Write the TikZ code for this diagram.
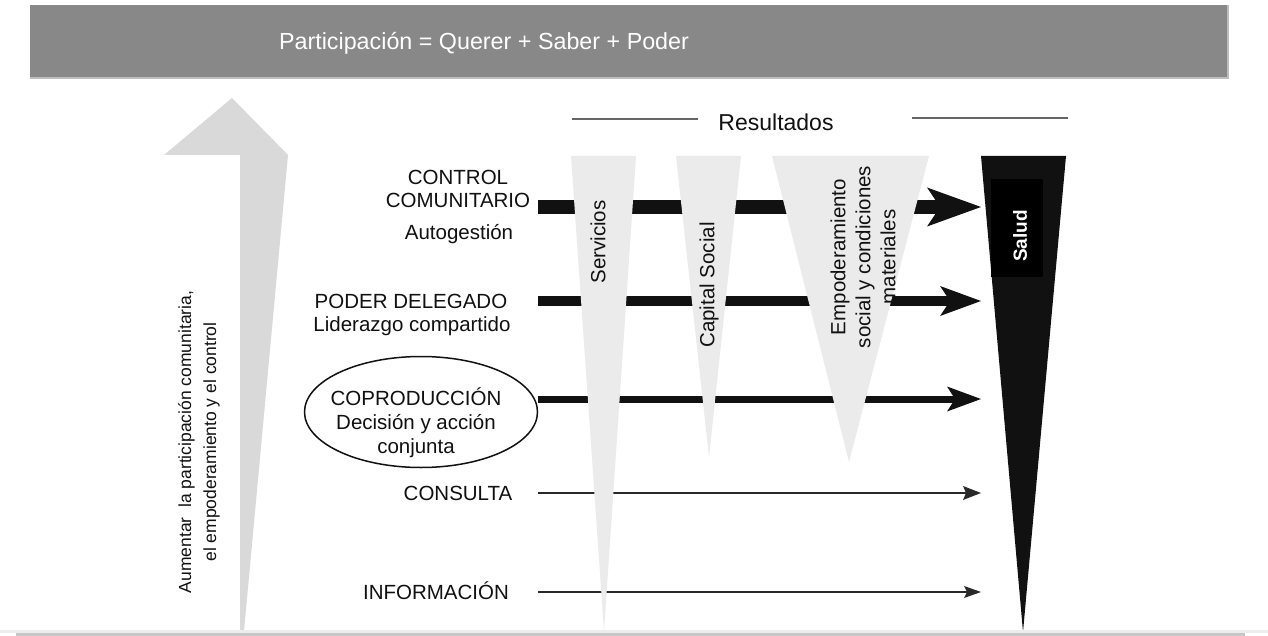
\documentclass[tikz,border=0pt]{standalone}
\usepackage{fontspec}
\setmainfont{Liberation Sans}
\usetikzlibrary{arrows.meta,shapes.geometric}
\definecolor{banner}{HTML}{888888}
\definecolor{bannerEdge}{HTML}{BDBDBD}
\definecolor{bigArrow}{HTML}{D9D9D9}
\definecolor{triFill}{HTML}{EBEBEB}
\definecolor{ink}{HTML}{111111}
\definecolor{rulegray}{HTML}{666666}
\begin{document}
\begin{tikzpicture}[x=1pt,y=-1pt,
  lbl/.style={font=\fontsize{20.5}{24}\selectfont, text=ink, inner sep=0pt, anchor=base},
  vtxt/.style={font=\fontsize{20.5}{25}\selectfont, text=ink, rotate=90, align=center, inner sep=0pt},
  tri/.style={fill=triFill},
  heavy/.style={draw=ink, line width=14.5pt, -{Stealth[length=54pt,width=39pt,inset=13pt,line width=0pt]}},
  medium/.style={draw=ink, line width=9.5pt, -{Stealth[length=41pt,width=30pt,inset=10pt,line width=0pt]}},
  light/.style={draw=ink, line width=7pt, -{Stealth[length=34pt,width=25pt,inset=8pt,line width=0pt]}},
  thinarrow/.style={draw=ink!90, line width=2pt, -{Stealth[length=18pt,width=14pt,inset=3pt,line width=0pt]}},
  thinnerarrow/.style={draw=ink!90, line width=1.5pt, -{Stealth[length=17pt,width=12pt,inset=3pt,line width=0pt]}},
  resrule/.style={draw=rulegray, line width=1.2pt}
]
\useasboundingbox (0,0) rectangle (1268,636);
\fill[white] (0,0) rectangle (1268,636);

% banner
\fill[bannerEdge] (30,5) rectangle (1229,79);
\fill[banner] (30,5) rectangle (1227,77);
\node[font=\fontsize{23.3}{28}\selectfont, text=white, anchor=base, inner sep=0pt] (title) at (484,50) {Participación = Querer + Saber + Poder};

% big left arrow
\fill[bigArrow] (232,98) -- (164,155) -- (240,155) -- (240,631) -- (244,631) -- (288,155) -- cycle;
\node[font=\fontsize{17.5}{25}\selectfont, rotate=90, align=center, text=ink, inner sep=0pt] (lefttext) at (199,442)
  {Aumentar\ \ la participación comunitaria,\\el empoderamiento y el control};

% Resultados
\node[font=\fontsize{23}{28}\selectfont, anchor=base, text=ink, inner sep=0pt] (res) at (776,131) {Resultados};
\coordinate (rl1) at (572,119); \coordinate (rl2) at (698,119);
\coordinate (rr1) at (912,118); \coordinate (rr2) at (1068,118);
\draw[resrule] (rl1) -- (rl2);
\draw[resrule] (rr1) -- (rr2);

% arrows
\coordinate (s1) at (538,207); \coordinate (e1) at (981,207);
\coordinate (s2) at (538,301); \coordinate (e2) at (981,301);
\coordinate (s3) at (538,399); \coordinate (e3) at (981,399);
\coordinate (s4) at (538,493); \coordinate (e4) at (981,493);
\coordinate (s5) at (538,592); \coordinate (e5) at (981,592);
\draw[heavy] (s1) -- (e1);
\draw[medium] (s2) -- (e2);
\draw[light] (s3) -- (e3);
\draw[thinarrow] (s4) -- (e4);
\draw[thinnerarrow] (s5) -- (e5);

% result triangles
\fill[tri] (571,156) -- (636,156) -- (604,631) -- cycle;
\fill[tri] (676,156) -- (741,156) -- (709,457) -- cycle;
\fill[tri] (772,156) -- (929,156) -- (849,462) -- cycle;
\fill[ink] (981,156) -- (1066,156) -- (1023,632) -- cycle;
\fill[black] (991,179) rectangle (1043,277);
\node[font=\bfseries\fontsize{19}{22}\selectfont, text=white, rotate=90, inner sep=0pt] (salud) at (1020,236) {Salud};

\node[vtxt] (serv) at (598,242) {Servicios};
\node[vtxt] (capsoc) at (709,285) {Capital Social};
\node[vtxt] (emp) at (863,257) {Empoderamiento\\social y condiciones\\materiales};

% level labels
\node[lbl] (control) at (458,185) {CONTROL};
\node[lbl] (comunitario) at (458,208) {COMUNITARIO};
\node[lbl] (autogestion) at (459,240) {Autogestión};
\node[lbl] (poder) at (411,308) {PODER DELEGADO};
\node[lbl] (liderazgo) at (412,331) {Liderazgo compartido};
\node[ellipse, draw=ink, line width=1.5pt, minimum width=233pt, minimum height=111pt] (cop) at (421,412) {};
\node[lbl] (copro) at (416,405) {COPRODUCCIÓN};
\node[lbl] (decision) at (416,429) {Decisión y acción};
\node[lbl] (conjunta) at (416,453) {conjunta};
\node[lbl] (consulta) at (458,500) {CONSULTA};
\node[lbl] (informacion) at (436,599) {INFORMACIÓN};

% bottom band
\fill[black!7] (0,630) rectangle (1268,633);
\fill[black!22] (16,633) rectangle (1245,636);
\end{tikzpicture}
\end{document}
